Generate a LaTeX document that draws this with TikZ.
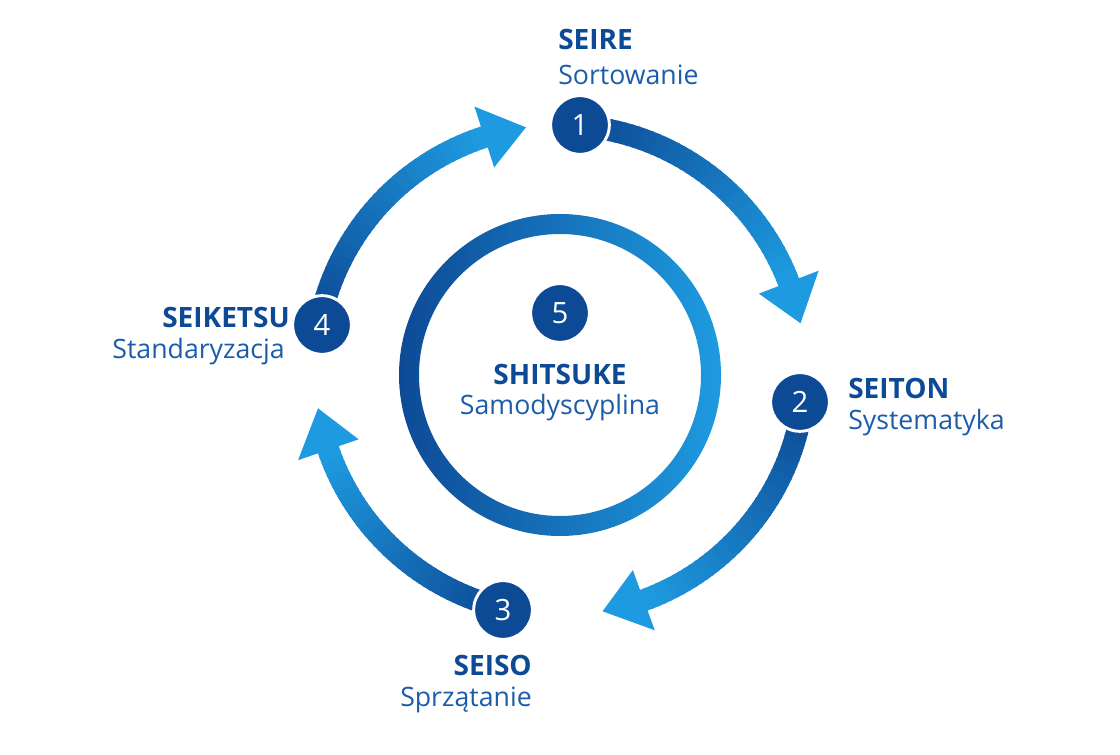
\documentclass[tikz,border=0pt]{standalone}
\usepackage{fontspec}
\setmainfont{Open Sans}
\usetikzlibrary{positioning,calc}
\definecolor{dark}{HTML}{0D4A96}
\definecolor{light}{HTML}{1E9BE0}
\definecolor{label}{HTML}{1B5DAA}
\tikzset{
  numcirc/.style={circle, fill=dark, draw=white, line width=2.2pt, minimum size=44pt,
    inner sep=0pt, text=white, font=\fontsize{22}{24}\selectfont},
  title/.style={text=dark, font=\bfseries\fontsize{21}{24}\selectfont, inner sep=0pt},
  sub/.style={text=label, font=\fontsize{20}{24}\selectfont, inner sep=0pt}
}
% gradient arc arrow: start angle, head base angle, tip angle
\newcommand\cyclearrow[3]{%
  \foreach \i in {0,...,39}{
    \pgfmathsetmacro\sa{#1+(#2-#1)*\i/40}
    \pgfmathsetmacro\ea{#1+(#2-#1)*(\i+1.4)/40}
    \pgfmathtruncatemacro\p{100*\i/39}
    \draw[line width=16.5pt, color=light!\p!dark] (c) ++(\sa:245) arc[start angle=\sa, end angle=\ea, radius=245];
  }
  \fill[light] ($(c)+(#2:213)$) -- ($(c)+(#2:277)$) -- ($(c)+(#3:245)$) -- cycle;
}
\begin{document}
\begin{tikzpicture}[x=0.75pt, y=0.75pt]
  \useasboundingbox[fill=white] (0,0) rectangle (1120,755);
  \coordinate (c) at (560,385);

  % arrows
  \cyclearrow{85}{21}{11}
  \cyclearrow{-8}{-70}{-80}
  \cyclearrow{257}{199}{189}
  \cyclearrow{169}{108}{98}

  % inner ring
  \shade[even odd rule, shading angle=-45, left color=dark, right color=light]
    (560,380) circle[radius=161] (560,380) circle[radius=141];

  % steps
  \node[numcirc] (n1) at (580,630) {1};
  \node[numcirc] (n2) at (800,353) {2};
  \node[numcirc] (n3) at (503,145) {3};
  \node[numcirc] (n4) at (322,430) {4};
  \node[numcirc] (n5) at (560,442) {5};

  % labels
  \node[title, anchor=west] (t1) at (558,715) {SEIRE};
  \node[sub, anchor=west] (s1) at (558,680) {Sortowanie};
  \node[title, anchor=west] (t2) at (848,367) {SEITON};
  \node[sub, anchor=west] (s2) at (848,332) {Systematyka};
  \node[title, anchor=east] (t3) at (532,90) {SEISO};
  \node[sub, anchor=east] (s3) at (532,55) {Sprzątanie};
  \node[title, anchor=east] (t4) at (290,437) {SEIKETSU};
  \node[sub, anchor=east] (s4) at (285,403) {Standaryzacja};
  \node[title] (t5) at (560,380) {SHITSUKE};
  \node[sub] (s5) at (560,347) {Samodyscyplina};
\end{tikzpicture}
\end{document}
